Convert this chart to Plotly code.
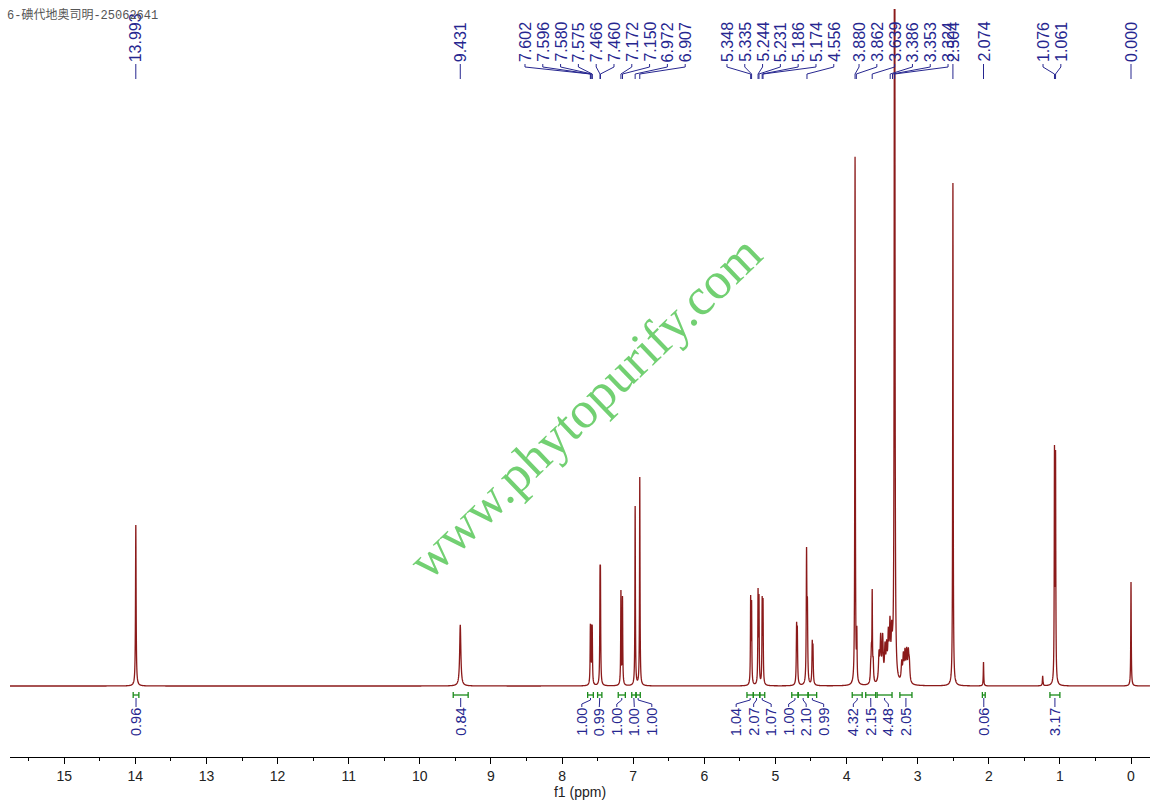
import numpy as np
import plotly.graph_objects as go

# ---------------- data ----------------
title_text = "6-碘代地奥司明-25062641"

# resonance lines: position (ppm), apparent top height
# (pixels above the baseline in the reference), half width (ppm)
line_ppm = [13.993, 9.431,
            7.602, 7.596, 7.580, 7.575, 7.466, 7.460, 7.172, 7.150, 6.972, 6.907,
            5.348, 5.335, 5.244, 5.231, 5.186, 5.174,
            4.702, 4.692, 4.562, 4.550, 4.482, 4.472,
            3.880, 3.870, 3.855, 3.660, 3.650, 3.639, 3.625,
            3.543, 3.520, 3.492, 3.459, 3.436, 3.412, 3.389, 3.365, 3.351, 3.324,
            3.224, 3.201, 3.178, 3.154, 3.131, 3.117,
            2.504, 2.074, 1.242, 1.076, 1.061, 0.000]
line_top = [161, 61,
            61, 61, 59, 59, 119, 119, 96, 90, 180, 209,
            91, 86, 98, 92, 90, 88,
            64, 60, 139, 89, 46, 42,
            529, 74, 60, 26, 43, 97, 29,
            36, 53, 53, 44, 46, 59, 70, 66, 59, 1500,
            26, 34, 38, 39, 38, 29,
            503, 24, 10, 241, 236, 104]
line_hw = [0.005, 0.010,
           0.004, 0.004, 0.004, 0.004, 0.004, 0.004, 0.004, 0.004, 0.004, 0.004,
           0.004, 0.004, 0.004, 0.004, 0.004, 0.004,
           0.005, 0.005, 0.005, 0.005, 0.005, 0.005,
           0.004, 0.004, 0.004, 0.006, 0.006, 0.004, 0.006,
           0.009, 0.009, 0.009, 0.009, 0.009, 0.009, 0.009, 0.008, 0.007, 0.004,
           0.009, 0.009, 0.009, 0.009, 0.009, 0.009,
           0.004, 0.004, 0.005, 0.004, 0.004, 0.004]

# peak-pick labels
label_ppm = [13.993, 9.431,
             7.602, 7.596, 7.580, 7.575, 7.466, 7.460, 7.172, 7.150, 6.972, 6.907,
             5.348, 5.335, 5.244, 5.231, 5.186, 5.174, 4.556,
             3.880, 3.862, 3.639, 3.386, 3.353, 3.324,
             2.504, 2.074, 1.076, 1.061, 0.000]

# integrals: region start / end (ppm) and value
int_from = [14.03, 9.53, 7.64, 7.50, 7.21, 7.02, 6.96, 5.40, 5.31, 5.22, 4.77, 4.68, 4.54,
            3.92, 3.73, 3.57, 3.25, 2.09, 1.14]
int_to = [13.95, 9.32, 7.56, 7.44, 7.11, 6.96, 6.90, 5.31, 5.22, 5.15, 4.68, 4.54, 4.42,
          3.78, 3.59, 3.36, 3.08, 2.05, 1.00]
int_value = [0.96, 0.84, 1.00, 0.99, 1.00, 1.00, 1.00, 1.04, 2.07, 1.07, 1.00, 2.10, 0.99,
             4.32, 2.15, 4.48, 2.05, 0.06, 3.17]

# ---------------- layout constants ----------------
PX_PER_PPM = 71.12
X_RANGE = [15.762, -0.267]
BASE_PX = 686              # pixel row of the spectrum baseline
PLOT_TOP_PX, PLOT_BOT_PX = 9, 757
SPEC_COLOR = "#8b1a1a"
BLUE = "#26268f"
GREEN = "#1a8a1a"

# peak-label groups: (first label index, count, start position in ppm)
LABEL_GROUPS = [(2, 10, 8.521), (12, 7, 5.681), (19, 6, 3.824), (27, 2, 1.237)]
LABEL_STEP = 17.8 / PX_PER_PPM
INT_STEP = 17.5 / PX_PER_PPM


def yv(px_row):
    """Convert a pixel row of the reference into the y data unit."""
    return BASE_PX - px_row


# ---------------- spectrum ----------------
lp = np.array(line_ppm)
lt = np.array(line_top, dtype=float)
lw = np.array(line_hw)
A = lw[None, :] ** 2 / ((lp[:, None] - lp[None, :]) ** 2 + lw[None, :] ** 2)
amp = np.clip(np.linalg.solve(A, lt), 0, None)

x = np.arange(X_RANGE[0], X_RANGE[1], -0.0005)
y = np.zeros_like(x)
for p, a, w in zip(lp, amp, lw):
    y += a * w ** 2 / ((x - p) ** 2 + w ** 2)

fig = go.Figure()
fig.add_trace(go.Scatter(x=x, y=y, mode="lines", line=dict(color=SPEC_COLOR, width=1.3, simplify=False),
                         hoverinfo="skip", showlegend=False))

# ---------------- peak labels ----------------
slots = list(label_ppm)
for first, count, start in LABEL_GROUPS:
    for k in range(count):
        slots[first + k] = start - k * LABEL_STEP

cx, cy = [], []
annotations = []
for p, s in zip(label_ppm, slots):
    cx += [s, s, p, p, None]
    cy += [yv(64), yv(67), yv(74), yv(79), None]
    annotations.append(dict(x=s, y=yv(63), xref="x", yref="y", text=f"{p:.3f}", showarrow=False,
                            textangle=-90, xanchor="center", yanchor="bottom", borderpad=0,
                            font=dict(family="Liberation Sans", size=16, color=BLUE)))
fig.add_trace(go.Scatter(x=cx, y=cy, mode="lines", line=dict(color=BLUE, width=1),
                         hoverinfo="skip", showlegend=False))


# ---------------- integrals ----------------
def spread(centers, gap):
    # centers given in ascending screen order (descending ppm -> use negative)
    clusters = [[c] for c in centers]
    while True:
        pos = []
        for cl in clusters:
            m = sum(cl) / len(cl)
            pos.append([m - (len(cl) - 1) * gap / 2 + k * gap for k in range(len(cl))])
        merged = False
        for i in range(len(clusters) - 1):
            if pos[i][-1] + gap > pos[i + 1][0] + 1e-9:
                clusters[i] = clusters[i] + clusters[i + 1]
                del clusters[i + 1]
                merged = True
                break
        if not merged:
            return [v for pl in pos for v in pl]


centers = [(a + b) / 2 for a, b in zip(int_from, int_to)]
lab_pos = [-v for v in spread([-c for c in centers], INT_STEP)]

bx, by = [], []
ix, iy = [], []
for a, b, c, lpos, val in zip(int_from, int_to, centers, lab_pos, int_value):
    bx += [a, b, None, a, a, None, b, b, None]
    by += [yv(695), yv(695), None, yv(692), yv(698), None, yv(692), yv(698), None]
    ix += [c, c, lpos, lpos, None]
    iy += [yv(698), yv(700), yv(704), yv(707), None]
    annotations.append(dict(x=lpos, y=yv(707), xref="x", yref="y", text=f"{val:.2f}", showarrow=False,
                            textangle=-90, xanchor="center", yanchor="top", borderpad=0,
                            font=dict(family="Liberation Sans", size=14.5, color=BLUE)))
fig.add_trace(go.Scatter(x=bx, y=by, mode="lines", line=dict(color=GREEN, width=1.3),
                         hoverinfo="skip", showlegend=False))
fig.add_trace(go.Scatter(x=ix, y=iy, mode="lines", line=dict(color=BLUE, width=1),
                         hoverinfo="skip", showlegend=False))

# ---------------- title and watermark ----------------
annotations.append(dict(x=0, y=1, xref="paper", yref="paper", text=title_text, showarrow=False,
                        xanchor="left", yanchor="top", xshift=-5, yshift=3,
                        font=dict(family="Liberation Mono, Noto Sans CJK SC", size=12, color="#555555")))
annotations.append(dict(x=(1131 - 584) / PX_PER_PPM, y=yv(407), xref="x", yref="y",
                        text="www.phytopurify.com", showarrow=False, textangle=-44,
                        font=dict(family="Liberation Serif", size=52, color="#72d072")))

fig.update_layout(
    width=1152, height=805,
    margin=dict(l=10, r=2, t=PLOT_TOP_PX, b=805 - PLOT_BOT_PX),
    paper_bgcolor="white", plot_bgcolor="white",
    showlegend=False,
    annotations=annotations,
    xaxis=dict(range=X_RANGE, tickmode="linear", tick0=0, dtick=1,
               ticks="outside", ticklen=6, tickwidth=1, tickcolor="black",
               showline=True, linecolor="black", linewidth=1,
               showgrid=False, zeroline=False,
               minor=dict(tick0=0, dtick=0.5, ticks="outside", ticklen=3, tickcolor="black", showgrid=False),
               tickfont=dict(family="Liberation Sans", size=14, color="#222222"),
               title=dict(text="f1 (ppm)", standoff=2,
                          font=dict(family="Liberation Sans", size=14, color="#222222"))),
    yaxis=dict(visible=False, range=[yv(PLOT_BOT_PX), yv(PLOT_TOP_PX)], fixedrange=True),
)

fig.write_html("out.html", config={"displayModeBar": False},
               post_script="document.body.style.margin='0';")
